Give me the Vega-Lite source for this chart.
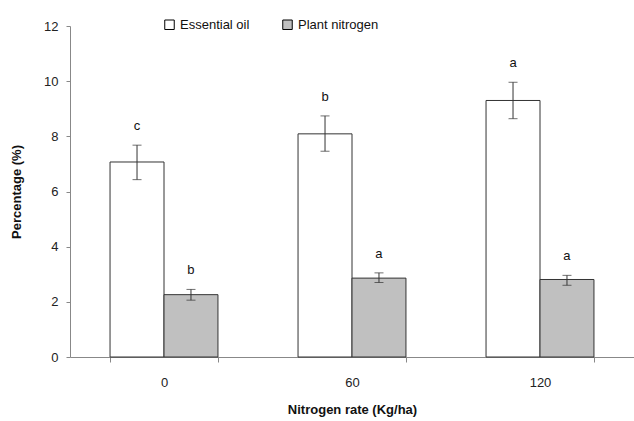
{
  "$schema": "https://vega.github.io/schema/vega-lite/v6.json",
  "width": 564,
  "height": 331,
  "autosize": "none",
  "padding": {"left": 70, "top": 26, "right": 0, "bottom": 64},
  "config": {
    "font": "Liberation Sans",
    "view": {"stroke": null},
    "axis": {"grid": false, "domainColor": "#888", "tickColor": "#888", "labelColor": "#222", "labelFontSize": 13, "titleFontSize": 13, "titleFontWeight": "bold", "titleColor": "#111"}
  },
  "data": {
    "values": [
      {"rate": "0", "series": "Essential oil", "value": 7.07, "lo": 6.43, "hi": 7.68, "sig": "c"},
      {"rate": "0", "series": "Plant nitrogen", "value": 2.26, "lo": 2.06, "hi": 2.45, "sig": "b"},
      {"rate": "60", "series": "Essential oil", "value": 8.09, "lo": 7.46, "hi": 8.74, "sig": "b"},
      {"rate": "60", "series": "Plant nitrogen", "value": 2.86, "lo": 2.7, "hi": 3.05, "sig": "a"},
      {"rate": "120", "series": "Essential oil", "value": 9.3, "lo": 8.64, "hi": 9.96, "sig": "a"},
      {"rate": "120", "series": "Plant nitrogen", "value": 2.81, "lo": 2.6, "hi": 2.96, "sig": "a"}
    ]
  },
  "encoding": {
    "x": {
      "field": "rate", "type": "nominal", "sort": ["0", "60", "120"],
      "scale": {"paddingInner": 0.426, "paddingOuter": 0.213},
      "axis": {"title": "Nitrogen rate (Kg/ha)", "labelAngle": 0, "tickBand": "extent", "tickSize": 5, "labelPadding": 14, "titlePadding": 14}
    },
    "xOffset": {"field": "series", "type": "nominal", "scale": {"paddingInner": 0, "paddingOuter": 0}}
  },
  "layer": [
    {
      "mark": {"type": "bar", "stroke": "#333", "strokeWidth": 1},
      "encoding": {
        "y": {"field": "value", "type": "quantitative", "scale": {"domain": [0, 12]},
          "axis": {"title": "Percentage (%)", "values": [0, 2, 4, 6, 8, 10, 12], "tickSize": 4, "labelPadding": 8, "titlePadding": 20}},
        "fill": {"field": "series", "type": "nominal",
          "scale": {"domain": ["Essential oil", "Plant nitrogen"], "range": ["#ffffff", "#c0c0c0"]},
          "legend": {"title": null, "orient": "none", "legendX": 93, "legendY": -8, "direction": "horizontal", "symbolType": "square", "symbolStrokeColor": "#000", "symbolStrokeWidth": 1, "symbolSize": 90, "labelFontSize": 13, "labelColor": "#111", "columnPadding": 30, "labelOffset": 4}}
      }
    },
    {
      "mark": {"type": "rule", "color": "#333", "strokeWidth": 1},
      "encoding": {"y": {"field": "lo", "type": "quantitative"}, "y2": {"field": "hi"}}
    },
    {
      "mark": {"type": "tick", "color": "#333", "thickness": 1, "size": 9},
      "encoding": {"y": {"field": "lo", "type": "quantitative"}}
    },
    {
      "mark": {"type": "tick", "color": "#333", "thickness": 1, "size": 9},
      "encoding": {"y": {"field": "hi", "type": "quantitative"}}
    },
    {
      "mark": {"type": "text", "dy": -19, "baseline": "middle", "fontSize": 13, "color": "#111"},
      "encoding": {"y": {"field": "hi", "type": "quantitative"}, "text": {"field": "sig"}}
    }
  ]
}
